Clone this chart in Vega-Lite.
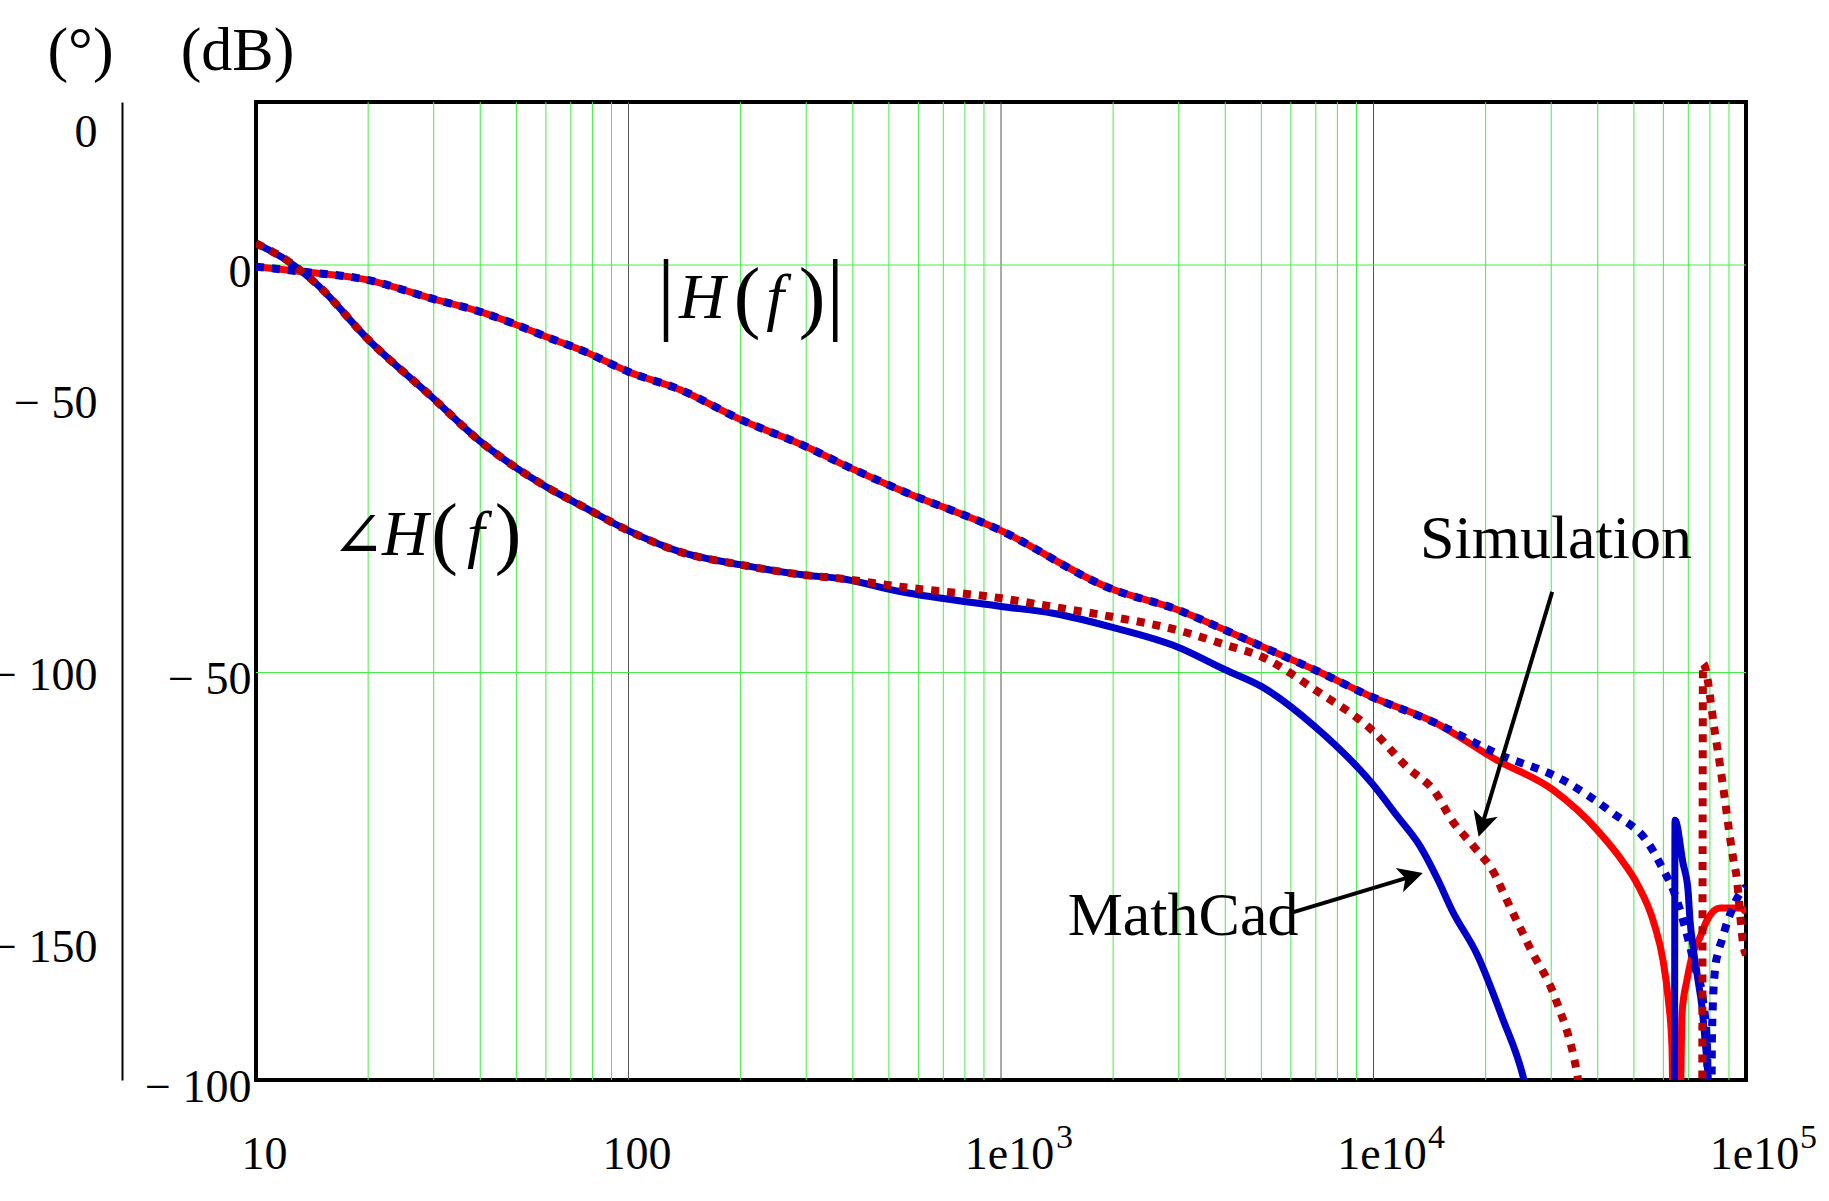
{
  "$schema": "https://vega.github.io/schema/vega-lite/v6.json",
  "width": 1490,
  "height": 978,
  "autosize": {"type": "none"},
  "padding": {"left": 256, "top": 102, "right": 83, "bottom": 121},
  "background": "white",
  "config": {
    "view": {"stroke": "black", "strokeWidth": 4},
    "font": "Liberation Serif",
    "axis": {"labelFont": "Liberation Serif", "titleFont": "Liberation Serif", "labelColor": "black", "titleColor": "black", "titleFontWeight": "normal"}
  },
  "datasets": {
    "minorGrid": [
      {"f": 20}, {"f": 30}, {"f": 40}, {"f": 50}, {"f": 60}, {"f": 70}, {"f": 80}, {"f": 90},
      {"f": 200}, {"f": 300}, {"f": 400}, {"f": 500}, {"f": 600}, {"f": 700}, {"f": 800}, {"f": 900},
      {"f": 2000}, {"f": 3000}, {"f": 4000}, {"f": 5000}, {"f": 6000}, {"f": 7000}, {"f": 8000}, {"f": 9000},
      {"f": 20000}, {"f": 30000}, {"f": 40000}, {"f": 50000}, {"f": 60000}, {"f": 70000}, {"f": 80000}, {"f": 90000}
    ],
    "decadeGrid": [{"f": 100}, {"f": 1000}, {"f": 10000}],
    "hGrid": [{"db": 0}, {"db": -50}],
    "mag": [
      {"s": "MathCad", "f": 10, "db": -0.2}, {"s": "MathCad", "f": 13.22, "db": -0.8}, {"s": "MathCad", "f": 19.77, "db": -1.8},
      {"s": "MathCad", "f": 29.56, "db": -4.1}, {"s": "MathCad", "f": 39.73, "db": -5.7}, {"s": "MathCad", "f": 49.15, "db": -7.2},
      {"s": "MathCad", "f": 60.12, "db": -8.8}, {"s": "MathCad", "f": 76.13, "db": -10.6}, {"s": "MathCad", "f": 99.94, "db": -13.1},
      {"s": "MathCad", "f": 137.6, "db": -15.3}, {"s": "MathCad", "f": 200.9, "db": -19.0}, {"s": "MathCad", "f": 300.3, "db": -22.3},
      {"s": "MathCad", "f": 369.8, "db": -24.3}, {"s": "MathCad", "f": 535.6, "db": -27.6}, {"s": "MathCad", "f": 990.8, "db": -32.5},
      {"s": "MathCad", "f": 1968, "db": -39.7}, {"s": "MathCad", "f": 2978, "db": -42.3}, {"s": "MathCad", "f": 4000, "db": -44.8},
      {"s": "MathCad", "f": 5012, "db": -46.8}, {"s": "MathCad", "f": 6973, "db": -49.7}, {"s": "MathCad", "f": 9901, "db": -53.0},
      {"s": "MathCad", "f": 14700, "db": -56.2}, {"s": "MathCad", "f": 21330, "db": -60.7}, {"s": "MathCad", "f": 30330, "db": -64.4},
      {"s": "MathCad", "f": 39810, "db": -69.3}, {"s": "MathCad", "f": 47030, "db": -73.4}, {"s": "MathCad", "f": 50970, "db": -75.9},
      {"s": "MathCad", "f": 56630, "db": -80.8}, {"s": "MathCad", "f": 59870, "db": -85.3}, {"s": "MathCad", "f": 61750, "db": -89.8},
      {"s": "MathCad", "f": 63290, "db": -96.0}, {"s": "MathCad", "f": 64080, "db": -115}, {"s": "MathCad", "f": 66100, "db": -115},
      {"s": "MathCad", "f": 67330, "db": -91.8}, {"s": "MathCad", "f": 69440, "db": -87.7}, {"s": "MathCad", "f": 72070, "db": -84.4},
      {"s": "MathCad", "f": 75240, "db": -82.5}, {"s": "MathCad", "f": 78570, "db": -80.4}, {"s": "MathCad", "f": 85140, "db": -78.9},
      {"s": "MathCad", "f": 96360, "db": -78.9}, {"s": "MathCad", "f": 100000, "db": -79.4},
      {"s": "Simulation", "f": 10, "db": -0.2}, {"s": "Simulation", "f": 13.22, "db": -0.8}, {"s": "Simulation", "f": 19.77, "db": -1.8},
      {"s": "Simulation", "f": 29.56, "db": -4.1}, {"s": "Simulation", "f": 39.73, "db": -5.7}, {"s": "Simulation", "f": 49.15, "db": -7.2},
      {"s": "Simulation", "f": 60.12, "db": -8.8}, {"s": "Simulation", "f": 76.13, "db": -10.6}, {"s": "Simulation", "f": 99.94, "db": -13.1},
      {"s": "Simulation", "f": 137.6, "db": -15.3}, {"s": "Simulation", "f": 200.9, "db": -19.0}, {"s": "Simulation", "f": 300.3, "db": -22.3},
      {"s": "Simulation", "f": 369.8, "db": -24.3}, {"s": "Simulation", "f": 535.6, "db": -27.6}, {"s": "Simulation", "f": 990.8, "db": -32.5},
      {"s": "Simulation", "f": 1968, "db": -39.7}, {"s": "Simulation", "f": 2978, "db": -42.3}, {"s": "Simulation", "f": 4000, "db": -44.8},
      {"s": "Simulation", "f": 5012, "db": -46.8}, {"s": "Simulation", "f": 6973, "db": -49.7}, {"s": "Simulation", "f": 9901, "db": -53.0},
      {"s": "Simulation", "f": 14700, "db": -56.2}, {"s": "Simulation", "f": 21330, "db": -59.9}, {"s": "Simulation", "f": 32270, "db": -63.2},
      {"s": "Simulation", "f": 43690, "db": -67.2}, {"s": "Simulation", "f": 54570, "db": -70.9}, {"s": "Simulation", "f": 60620, "db": -74.6},
      {"s": "Simulation", "f": 63290, "db": -76.3}, {"s": "Simulation", "f": 67750, "db": -80.4}, {"s": "Simulation", "f": 72970, "db": -86.1},
      {"s": "Simulation", "f": 76650, "db": -90.2}, {"s": "Simulation", "f": 78570, "db": -96.0}, {"s": "Simulation", "f": 79550, "db": -112},
      {"s": "Simulation", "f": 80540, "db": -112}, {"s": "Simulation", "f": 81040, "db": -94.2}, {"s": "Simulation", "f": 82550, "db": -86.5},
      {"s": "Simulation", "f": 84100, "db": -84.4}, {"s": "Simulation", "f": 86200, "db": -82.8}, {"s": "Simulation", "f": 88910, "db": -80.7},
      {"s": "Simulation", "f": 91700, "db": -79.1}, {"s": "Simulation", "f": 95180, "db": -77.5}, {"s": "Simulation", "f": 100000, "db": -76.3}
    ],
    "phase": [
      {"s": "MathCad", "f": 10, "ph": -21.0}, {"s": "MathCad", "f": 12.32, "ph": -24.5}, {"s": "MathCad", "f": 14.54, "ph": -28.5},
      {"s": "MathCad", "f": 20.0, "ph": -38.7}, {"s": "MathCad", "f": 29.56, "ph": -49.2}, {"s": "MathCad", "f": 39.73, "ph": -57.3},
      {"s": "MathCad", "f": 49.15, "ph": -62.0}, {"s": "MathCad", "f": 60.12, "ph": -65.8}, {"s": "MathCad", "f": 76.13, "ph": -69.6},
      {"s": "MathCad", "f": 99.94, "ph": -73.9}, {"s": "MathCad", "f": 137.6, "ph": -77.8}, {"s": "MathCad", "f": 200.9, "ph": -80.2},
      {"s": "MathCad", "f": 300.3, "ph": -82.1}, {"s": "MathCad", "f": 369.8, "ph": -82.7}, {"s": "MathCad", "f": 535.6, "ph": -85.1},
      {"s": "MathCad", "f": 990.8, "ph": -87.8}, {"s": "MathCad", "f": 1379, "ph": -89.1}, {"s": "MathCad", "f": 1968, "ph": -91.6},
      {"s": "MathCad", "f": 2978, "ph": -95.3}, {"s": "MathCad", "f": 4000, "ph": -99.5}, {"s": "MathCad", "f": 5012, "ph": -102.6},
      {"s": "MathCad", "f": 6973, "ph": -110.0}, {"s": "MathCad", "f": 9901, "ph": -120.4}, {"s": "MathCad", "f": 11600, "ph": -126.5},
      {"s": "MathCad", "f": 13370, "ph": -132.1}, {"s": "MathCad", "f": 14900, "ph": -138.2}, {"s": "MathCad", "f": 16230, "ph": -143.7},
      {"s": "MathCad", "f": 19000, "ph": -152.0}, {"s": "MathCad", "f": 22130, "ph": -163.4}, {"s": "MathCad", "f": 25350, "ph": -175.0},
      {"s": "MathCad", "f": 28000, "ph": -190}, {"s": "MathCad", "f": 40560, "ph": -210}, {"s": "MathCad", "f": 64080, "ph": -240},
      {"s": "MathCad", "f": 64480, "ph": -127.2}, {"s": "MathCad", "f": 67750, "ph": -135.1}, {"s": "MathCad", "f": 69870, "ph": -140.0},
      {"s": "MathCad", "f": 70740, "ph": -145.6}, {"s": "MathCad", "f": 72070, "ph": -150.5}, {"s": "MathCad", "f": 74320, "ph": -156.6},
      {"s": "MathCad", "f": 76180, "ph": -161.6}, {"s": "MathCad", "f": 77600, "ph": -167.6}, {"s": "MathCad", "f": 79050, "ph": -174.5},
      {"s": "MathCad", "f": 81040, "ph": -195},
      {"s": "Simulation", "f": 10, "ph": -21.0}, {"s": "Simulation", "f": 12.32, "ph": -24.5}, {"s": "Simulation", "f": 14.54, "ph": -28.5},
      {"s": "Simulation", "f": 20.0, "ph": -38.7}, {"s": "Simulation", "f": 29.56, "ph": -49.2}, {"s": "Simulation", "f": 39.73, "ph": -57.3},
      {"s": "Simulation", "f": 49.15, "ph": -62.0}, {"s": "Simulation", "f": 60.12, "ph": -65.8}, {"s": "Simulation", "f": 76.13, "ph": -69.6},
      {"s": "Simulation", "f": 99.94, "ph": -73.9}, {"s": "Simulation", "f": 137.6, "ph": -77.8}, {"s": "Simulation", "f": 200.9, "ph": -80.2},
      {"s": "Simulation", "f": 300.3, "ph": -82.1}, {"s": "Simulation", "f": 369.8, "ph": -82.7}, {"s": "Simulation", "f": 535.6, "ph": -84.2},
      {"s": "Simulation", "f": 990.8, "ph": -86.3}, {"s": "Simulation", "f": 1379, "ph": -87.9}, {"s": "Simulation", "f": 1968, "ph": -89.7},
      {"s": "Simulation", "f": 2978, "ph": -92.2}, {"s": "Simulation", "f": 4000, "ph": -94.9}, {"s": "Simulation", "f": 5012, "ph": -97.1},
      {"s": "Simulation", "f": 6973, "ph": -103.2}, {"s": "Simulation", "f": 9901, "ph": -110.6}, {"s": "Simulation", "f": 12300, "ph": -117.4},
      {"s": "Simulation", "f": 14700, "ph": -122.2}, {"s": "Simulation", "f": 16230, "ph": -127.2}, {"s": "Simulation", "f": 18620, "ph": -132.1},
      {"s": "Simulation", "f": 21330, "ph": -137.6}, {"s": "Simulation", "f": 22130, "ph": -140.0}, {"s": "Simulation", "f": 26310, "ph": -150.7},
      {"s": "Simulation", "f": 30900, "ph": -160.3}, {"s": "Simulation", "f": 35180, "ph": -173.7}, {"s": "Simulation", "f": 38130, "ph": -190},
      {"s": "Simulation", "f": 76180, "ph": -200}, {"s": "Simulation", "f": 76650, "ph": -98.3}, {"s": "Simulation", "f": 82550, "ph": -111.1},
      {"s": "Simulation", "f": 87820, "ph": -123.5}, {"s": "Simulation", "f": 89470, "ph": -127.7}, {"s": "Simulation", "f": 92270, "ph": -134.0},
      {"s": "Simulation", "f": 94590, "ph": -138.2}, {"s": "Simulation", "f": 96360, "ph": -144.3}, {"s": "Simulation", "f": 98170, "ph": -149.8},
      {"s": "Simulation", "f": 100000, "ph": -152.0}
    ],
    "bars": [
      {"f": 126.1, "db": -7.1, "t": "|"}, {"f": 358.9, "db": -7.1, "t": "|"}
    ],
    "parens": [
      {"f": 208.0, "db": -7.1, "t": "("}, {"f": 310.9, "db": -7.1, "t": ")"},
      {"f": 32.07, "db": -36.1, "t": "("}, {"f": 47.48, "db": -36.1, "t": ")"}
    ],
    "italics": [
      {"f": 157.5, "db": -6.5, "t": "H"}, {"f": 247.4, "db": -6.5, "t": "f"},
      {"f": 25.12, "db": -35.6, "t": "H"}, {"f": 38.96, "db": -35.6, "t": "f"}
    ],
    "angleSign": [{"f": 18.79, "db": -35.8, "t": "∠"}],
    "labels": [
      {"f": 30900, "db": -35.95, "t": "Simulation"},
      {"f": 3081, "db": -82.2, "t": "MathCad"}
    ],
    "superscripts": [
      {"f": 1405, "db": -108.3, "t": "3"},
      {"f": 14008, "db": -108.3, "t": "4"},
      {"f": 139640, "db": -108.3, "t": "5"}
    ],
    "arrows": [
      {"name": "Simulation", "f": 30176, "db": -40.1, "f2": 19634, "db2": -68.5},
      {"name": "MathCad", "f": 6005, "db": -79.5, "f2": 12485, "db2": -75.1}
    ]
  },
  "layer": [
    {
      "layer": [
        {
          "data": {"name": "minorGrid"},
          "mark": {"type": "rule", "color": "#44ee44", "strokeWidth": 1},
          "encoding": {
            "x": {"field": "f", "type": "quantitative", "scale": {"type": "log", "domain": [10, 100000], "nice": false},
              "axis": {"values": [10, 100, 1000, 10000, 100000], "labelExpr": "datum.value == 10 ? '10' : datum.value == 100 ? '100' : '1e10'", "domain": false, "ticks": false, "tickSize": 0, "grid": false, "labelFontSize": 46, "labelPadding": 88, "labelBaseline": "alphabetic", "labelOffset": 8, "labelFlush": false, "labelOverlap": false, "labelBound": false, "title": null}}
          }
        },
        {
          "data": {"name": "decadeGrid"},
          "mark": {"type": "rule", "color": "#555555", "strokeWidth": 1},
          "encoding": {
            "x": {"field": "f", "type": "quantitative", "scale": {"type": "log", "domain": [10, 100000], "nice": false},
              "axis": {"values": [10, 100, 1000, 10000, 100000], "labelExpr": "datum.value == 10 ? '10' : datum.value == 100 ? '100' : '1e10'", "domain": false, "ticks": false, "tickSize": 0, "grid": false, "labelFontSize": 46, "labelPadding": 88, "labelBaseline": "alphabetic", "labelOffset": 8, "labelFlush": false, "labelOverlap": false, "labelBound": false, "title": null}}
          }
        },
        {
          "data": {"name": "hGrid"},
          "mark": {"type": "rule", "color": "#44ee44", "strokeWidth": 1},
          "encoding": {
            "y": {"field": "db", "type": "quantitative", "scale": {"domain": [-100, 20], "nice": false, "zero": false},
              "axis": {"values": [-100, -50, 0], "labelExpr": "datum.value < 0 ? '− ' + format(-datum.value, 'd') : '0'", "domain": false, "ticks": false, "tickSize": 0, "grid": false, "labelFontSize": 46, "labelPadding": 5, "labelOffset": 7, "labelFlush": false, "labelOverlap": false, "labelBound": false, "title": "(dB)", "titleAngle": 0, "titleFontSize": 62, "titleAlign": "center", "titleBaseline": "alphabetic", "titleX": -19, "titleY": -33}}
          }
        },
        {
          "data": {"name": "mag"},
          "transform": [{"filter": "datum.s === 'MathCad'"}],
          "mark": {"type": "line", "color": "#ff0000", "strokeWidth": 7, "interpolate": "monotone", "clip": true},
          "encoding": {
            "x": {"field": "f", "type": "quantitative", "scale": {"type": "log", "domain": [10, 100000], "nice": false},
              "axis": {"values": [10, 100, 1000, 10000, 100000], "labelExpr": "datum.value == 10 ? '10' : datum.value == 100 ? '100' : '1e10'", "domain": false, "ticks": false, "tickSize": 0, "grid": false, "labelFontSize": 46, "labelPadding": 88, "labelBaseline": "alphabetic", "labelOffset": 8, "labelFlush": false, "labelOverlap": false, "labelBound": false, "title": null}},
            "y": {"field": "db", "type": "quantitative", "scale": {"domain": [-100, 20], "nice": false, "zero": false},
              "axis": {"values": [-100, -50, 0], "labelExpr": "datum.value < 0 ? '− ' + format(-datum.value, 'd') : '0'", "domain": false, "ticks": false, "tickSize": 0, "grid": false, "labelFontSize": 46, "labelPadding": 5, "labelOffset": 7, "labelFlush": false, "labelOverlap": false, "labelBound": false, "title": "(dB)", "titleAngle": 0, "titleFontSize": 62, "titleAlign": "center", "titleBaseline": "alphabetic", "titleX": -19, "titleY": -33}}
          }
        },
        {
          "data": {"name": "mag"},
          "transform": [{"filter": "datum.s === 'Simulation'"}],
          "mark": {"type": "line", "color": "#0000c8", "strokeWidth": 8, "strokeDash": [8, 8], "strokeCap": "butt", "interpolate": "monotone", "clip": true},
          "encoding": {
            "x": {"field": "f", "type": "quantitative", "scale": {"type": "log", "domain": [10, 100000], "nice": false},
              "axis": {"values": [10, 100, 1000, 10000, 100000], "labelExpr": "datum.value == 10 ? '10' : datum.value == 100 ? '100' : '1e10'", "domain": false, "ticks": false, "tickSize": 0, "grid": false, "labelFontSize": 46, "labelPadding": 88, "labelBaseline": "alphabetic", "labelOffset": 8, "labelFlush": false, "labelOverlap": false, "labelBound": false, "title": null}},
            "y": {"field": "db", "type": "quantitative", "scale": {"domain": [-100, 20], "nice": false, "zero": false},
              "axis": {"values": [-100, -50, 0], "labelExpr": "datum.value < 0 ? '− ' + format(-datum.value, 'd') : '0'", "domain": false, "ticks": false, "tickSize": 0, "grid": false, "labelFontSize": 46, "labelPadding": 5, "labelOffset": 7, "labelFlush": false, "labelOverlap": false, "labelBound": false, "title": "(dB)", "titleAngle": 0, "titleFontSize": 62, "titleAlign": "center", "titleBaseline": "alphabetic", "titleX": -19, "titleY": -33}}
          }
        },
        {
          "data": {"name": "bars"},
          "mark": {"type": "text", "font": "Liberation Serif", "fontSize": 90, "align": "center", "baseline": "alphabetic", "color": "black"},
          "encoding": {
            "x": {"field": "f", "type": "quantitative", "scale": {"type": "log", "domain": [10, 100000], "nice": false},
              "axis": {"values": [10, 100, 1000, 10000, 100000], "labelExpr": "datum.value == 10 ? '10' : datum.value == 100 ? '100' : '1e10'", "domain": false, "ticks": false, "tickSize": 0, "grid": false, "labelFontSize": 46, "labelPadding": 88, "labelBaseline": "alphabetic", "labelOffset": 8, "labelFlush": false, "labelOverlap": false, "labelBound": false, "title": null}},
            "y": {"field": "db", "type": "quantitative", "scale": {"domain": [-100, 20], "nice": false, "zero": false},
              "axis": {"values": [-100, -50, 0], "labelExpr": "datum.value < 0 ? '− ' + format(-datum.value, 'd') : '0'", "domain": false, "ticks": false, "tickSize": 0, "grid": false, "labelFontSize": 46, "labelPadding": 5, "labelOffset": 7, "labelFlush": false, "labelOverlap": false, "labelBound": false, "title": "(dB)", "titleAngle": 0, "titleFontSize": 62, "titleAlign": "center", "titleBaseline": "alphabetic", "titleX": -19, "titleY": -33}},
            "text": {"field": "t"}
          }
        },
        {
          "data": {"name": "parens"},
          "mark": {"type": "text", "font": "Liberation Serif", "fontSize": 80, "align": "center", "baseline": "alphabetic", "color": "black"},
          "encoding": {
            "x": {"field": "f", "type": "quantitative", "scale": {"type": "log", "domain": [10, 100000], "nice": false},
              "axis": {"values": [10, 100, 1000, 10000, 100000], "labelExpr": "datum.value == 10 ? '10' : datum.value == 100 ? '100' : '1e10'", "domain": false, "ticks": false, "tickSize": 0, "grid": false, "labelFontSize": 46, "labelPadding": 88, "labelBaseline": "alphabetic", "labelOffset": 8, "labelFlush": false, "labelOverlap": false, "labelBound": false, "title": null}},
            "y": {"field": "db", "type": "quantitative", "scale": {"domain": [-100, 20], "nice": false, "zero": false},
              "axis": {"values": [-100, -50, 0], "labelExpr": "datum.value < 0 ? '− ' + format(-datum.value, 'd') : '0'", "domain": false, "ticks": false, "tickSize": 0, "grid": false, "labelFontSize": 46, "labelPadding": 5, "labelOffset": 7, "labelFlush": false, "labelOverlap": false, "labelBound": false, "title": "(dB)", "titleAngle": 0, "titleFontSize": 62, "titleAlign": "center", "titleBaseline": "alphabetic", "titleX": -19, "titleY": -33}},
            "text": {"field": "t"}
          }
        },
        {
          "data": {"name": "italics"},
          "mark": {"type": "text", "font": "Liberation Serif", "fontStyle": "italic", "fontSize": 64, "align": "center", "baseline": "alphabetic", "color": "black"},
          "encoding": {
            "x": {"field": "f", "type": "quantitative", "scale": {"type": "log", "domain": [10, 100000], "nice": false},
              "axis": {"values": [10, 100, 1000, 10000, 100000], "labelExpr": "datum.value == 10 ? '10' : datum.value == 100 ? '100' : '1e10'", "domain": false, "ticks": false, "tickSize": 0, "grid": false, "labelFontSize": 46, "labelPadding": 88, "labelBaseline": "alphabetic", "labelOffset": 8, "labelFlush": false, "labelOverlap": false, "labelBound": false, "title": null}},
            "y": {"field": "db", "type": "quantitative", "scale": {"domain": [-100, 20], "nice": false, "zero": false},
              "axis": {"values": [-100, -50, 0], "labelExpr": "datum.value < 0 ? '− ' + format(-datum.value, 'd') : '0'", "domain": false, "ticks": false, "tickSize": 0, "grid": false, "labelFontSize": 46, "labelPadding": 5, "labelOffset": 7, "labelFlush": false, "labelOverlap": false, "labelBound": false, "title": "(dB)", "titleAngle": 0, "titleFontSize": 62, "titleAlign": "center", "titleBaseline": "alphabetic", "titleX": -19, "titleY": -33}},
            "text": {"field": "t"}
          }
        },
        {
          "data": {"name": "angleSign"},
          "mark": {"type": "text", "font": "DejaVu Serif", "fontSize": 64, "align": "center", "baseline": "alphabetic", "color": "black"},
          "encoding": {
            "x": {"field": "f", "type": "quantitative", "scale": {"type": "log", "domain": [10, 100000], "nice": false},
              "axis": {"values": [10, 100, 1000, 10000, 100000], "labelExpr": "datum.value == 10 ? '10' : datum.value == 100 ? '100' : '1e10'", "domain": false, "ticks": false, "tickSize": 0, "grid": false, "labelFontSize": 46, "labelPadding": 88, "labelBaseline": "alphabetic", "labelOffset": 8, "labelFlush": false, "labelOverlap": false, "labelBound": false, "title": null}},
            "y": {"field": "db", "type": "quantitative", "scale": {"domain": [-100, 20], "nice": false, "zero": false},
              "axis": {"values": [-100, -50, 0], "labelExpr": "datum.value < 0 ? '− ' + format(-datum.value, 'd') : '0'", "domain": false, "ticks": false, "tickSize": 0, "grid": false, "labelFontSize": 46, "labelPadding": 5, "labelOffset": 7, "labelFlush": false, "labelOverlap": false, "labelBound": false, "title": "(dB)", "titleAngle": 0, "titleFontSize": 62, "titleAlign": "center", "titleBaseline": "alphabetic", "titleX": -19, "titleY": -33}},
            "text": {"field": "t"}
          }
        },
        {
          "data": {"name": "labels"},
          "mark": {"type": "text", "font": "Liberation Serif", "fontSize": 62, "align": "center", "baseline": "alphabetic", "color": "black"},
          "encoding": {
            "x": {"field": "f", "type": "quantitative", "scale": {"type": "log", "domain": [10, 100000], "nice": false},
              "axis": {"values": [10, 100, 1000, 10000, 100000], "labelExpr": "datum.value == 10 ? '10' : datum.value == 100 ? '100' : '1e10'", "domain": false, "ticks": false, "tickSize": 0, "grid": false, "labelFontSize": 46, "labelPadding": 88, "labelBaseline": "alphabetic", "labelOffset": 8, "labelFlush": false, "labelOverlap": false, "labelBound": false, "title": null}},
            "y": {"field": "db", "type": "quantitative", "scale": {"domain": [-100, 20], "nice": false, "zero": false},
              "axis": {"values": [-100, -50, 0], "labelExpr": "datum.value < 0 ? '− ' + format(-datum.value, 'd') : '0'", "domain": false, "ticks": false, "tickSize": 0, "grid": false, "labelFontSize": 46, "labelPadding": 5, "labelOffset": 7, "labelFlush": false, "labelOverlap": false, "labelBound": false, "title": "(dB)", "titleAngle": 0, "titleFontSize": 62, "titleAlign": "center", "titleBaseline": "alphabetic", "titleX": -19, "titleY": -33}},
            "text": {"field": "t"}
          }
        },
        {
          "data": {"name": "superscripts"},
          "mark": {"type": "text", "font": "Liberation Serif", "fontSize": 34, "align": "left", "baseline": "alphabetic", "color": "black"},
          "encoding": {
            "x": {"field": "f", "type": "quantitative", "scale": {"type": "log", "domain": [10, 100000], "nice": false},
              "axis": {"values": [10, 100, 1000, 10000, 100000], "labelExpr": "datum.value == 10 ? '10' : datum.value == 100 ? '100' : '1e10'", "domain": false, "ticks": false, "tickSize": 0, "grid": false, "labelFontSize": 46, "labelPadding": 88, "labelBaseline": "alphabetic", "labelOffset": 8, "labelFlush": false, "labelOverlap": false, "labelBound": false, "title": null}},
            "y": {"field": "db", "type": "quantitative", "scale": {"domain": [-100, 20], "nice": false, "zero": false},
              "axis": {"values": [-100, -50, 0], "labelExpr": "datum.value < 0 ? '− ' + format(-datum.value, 'd') : '0'", "domain": false, "ticks": false, "tickSize": 0, "grid": false, "labelFontSize": 46, "labelPadding": 5, "labelOffset": 7, "labelFlush": false, "labelOverlap": false, "labelBound": false, "title": "(dB)", "titleAngle": 0, "titleFontSize": 62, "titleAlign": "center", "titleBaseline": "alphabetic", "titleX": -19, "titleY": -33}},
            "text": {"field": "t"}
          }
        },
        {
          "data": {"name": "arrows"},
          "mark": {"type": "rule", "color": "black", "strokeWidth": 4},
          "encoding": {
            "x": {"field": "f", "type": "quantitative", "scale": {"type": "log", "domain": [10, 100000], "nice": false},
              "axis": {"values": [10, 100, 1000, 10000, 100000], "labelExpr": "datum.value == 10 ? '10' : datum.value == 100 ? '100' : '1e10'", "domain": false, "ticks": false, "tickSize": 0, "grid": false, "labelFontSize": 46, "labelPadding": 88, "labelBaseline": "alphabetic", "labelOffset": 8, "labelFlush": false, "labelOverlap": false, "labelBound": false, "title": null}},
            "y": {"field": "db", "type": "quantitative", "scale": {"domain": [-100, 20], "nice": false, "zero": false},
              "axis": {"values": [-100, -50, 0], "labelExpr": "datum.value < 0 ? '− ' + format(-datum.value, 'd') : '0'", "domain": false, "ticks": false, "tickSize": 0, "grid": false, "labelFontSize": 46, "labelPadding": 5, "labelOffset": 7, "labelFlush": false, "labelOverlap": false, "labelBound": false, "title": "(dB)", "titleAngle": 0, "titleFontSize": 62, "titleAlign": "center", "titleBaseline": "alphabetic", "titleX": -19, "titleY": -33}},
            "x2": {"field": "f2"},
            "y2": {"field": "db2"}
          }
        },
        {
          "data": {"name": "arrows"},
          "transform": [{"filter": "datum.name === 'Simulation'"}],
          "mark": {"type": "point", "shape": "M0,-1L0.9,0.75L0,0.3L-0.9,0.75Z", "filled": true, "color": "black", "opacity": 1, "size": 784, "angle": 196.7},
          "encoding": {
            "x": {"field": "f2", "type": "quantitative", "scale": {"type": "log", "domain": [10, 100000], "nice": false},
              "axis": {"values": [10, 100, 1000, 10000, 100000], "labelExpr": "datum.value == 10 ? '10' : datum.value == 100 ? '100' : '1e10'", "domain": false, "ticks": false, "tickSize": 0, "grid": false, "labelFontSize": 46, "labelPadding": 88, "labelBaseline": "alphabetic", "labelOffset": 8, "labelFlush": false, "labelOverlap": false, "labelBound": false, "title": null}},
            "y": {"field": "db2", "type": "quantitative", "scale": {"domain": [-100, 20], "nice": false, "zero": false},
              "axis": {"values": [-100, -50, 0], "labelExpr": "datum.value < 0 ? '− ' + format(-datum.value, 'd') : '0'", "domain": false, "ticks": false, "tickSize": 0, "grid": false, "labelFontSize": 46, "labelPadding": 5, "labelOffset": 7, "labelFlush": false, "labelOverlap": false, "labelBound": false, "title": "(dB)", "titleAngle": 0, "titleFontSize": 62, "titleAlign": "center", "titleBaseline": "alphabetic", "titleX": -19, "titleY": -33}}
          }
        },
        {
          "data": {"name": "arrows"},
          "transform": [{"filter": "datum.name === 'MathCad'"}],
          "mark": {"type": "point", "shape": "M0,-1L0.9,0.75L0,0.3L-0.9,0.75Z", "filled": true, "color": "black", "opacity": 1, "size": 784, "angle": 73.2},
          "encoding": {
            "x": {"field": "f2", "type": "quantitative", "scale": {"type": "log", "domain": [10, 100000], "nice": false},
              "axis": {"values": [10, 100, 1000, 10000, 100000], "labelExpr": "datum.value == 10 ? '10' : datum.value == 100 ? '100' : '1e10'", "domain": false, "ticks": false, "tickSize": 0, "grid": false, "labelFontSize": 46, "labelPadding": 88, "labelBaseline": "alphabetic", "labelOffset": 8, "labelFlush": false, "labelOverlap": false, "labelBound": false, "title": null}},
            "y": {"field": "db2", "type": "quantitative", "scale": {"domain": [-100, 20], "nice": false, "zero": false},
              "axis": {"values": [-100, -50, 0], "labelExpr": "datum.value < 0 ? '− ' + format(-datum.value, 'd') : '0'", "domain": false, "ticks": false, "tickSize": 0, "grid": false, "labelFontSize": 46, "labelPadding": 5, "labelOffset": 7, "labelFlush": false, "labelOverlap": false, "labelBound": false, "title": "(dB)", "titleAngle": 0, "titleFontSize": 62, "titleAlign": "center", "titleBaseline": "alphabetic", "titleX": -19, "titleY": -33}}
          }
        }
      ]
    },
    {
      "layer": [
        {
          "data": {"name": "phase"},
          "transform": [{"filter": "datum.s === 'MathCad'"}],
          "mark": {"type": "line", "color": "#0000c8", "strokeWidth": 7, "interpolate": "monotone", "clip": true},
          "encoding": {
            "x": {"field": "f", "type": "quantitative", "scale": {"type": "log", "domain": [10, 100000], "nice": false},
              "axis": {"values": [10, 100, 1000, 10000, 100000], "labelExpr": "datum.value == 10 ? '10' : datum.value == 100 ? '100' : '1e10'", "domain": false, "ticks": false, "tickSize": 0, "grid": false, "labelFontSize": 46, "labelPadding": 88, "labelBaseline": "alphabetic", "labelOffset": 8, "labelFlush": false, "labelOverlap": false, "labelBound": false, "title": null}},
            "y": {"field": "ph", "type": "quantitative", "scale": {"domain": [-175, 5], "nice": false, "zero": false},
              "axis": {"orient": "left", "offset": 134, "values": [-150, -100, -50, 0], "labelExpr": "datum.value < 0 ? '− ' + format(-datum.value, 'd') : '0'", "domain": true, "domainColor": "black", "domainWidth": 2, "ticks": false, "tickSize": 0, "grid": false, "labelFontSize": 46, "labelPadding": 25, "labelOffset": 3, "labelFlush": false, "labelOverlap": false, "labelBound": false, "title": "(°)", "titleAngle": 0, "titleFontSize": 62, "titleAlign": "center", "titleBaseline": "alphabetic", "titleX": -42, "titleY": -33}}
          }
        },
        {
          "data": {"name": "phase"},
          "transform": [{"filter": "datum.s === 'Simulation'"}],
          "mark": {"type": "line", "color": "#ba0000", "strokeWidth": 8, "strokeDash": [8, 8], "strokeCap": "butt", "interpolate": "monotone", "clip": true},
          "encoding": {
            "x": {"field": "f", "type": "quantitative", "scale": {"type": "log", "domain": [10, 100000], "nice": false},
              "axis": {"values": [10, 100, 1000, 10000, 100000], "labelExpr": "datum.value == 10 ? '10' : datum.value == 100 ? '100' : '1e10'", "domain": false, "ticks": false, "tickSize": 0, "grid": false, "labelFontSize": 46, "labelPadding": 88, "labelBaseline": "alphabetic", "labelOffset": 8, "labelFlush": false, "labelOverlap": false, "labelBound": false, "title": null}},
            "y": {"field": "ph", "type": "quantitative", "scale": {"domain": [-175, 5], "nice": false, "zero": false},
              "axis": {"orient": "left", "offset": 134, "values": [-150, -100, -50, 0], "labelExpr": "datum.value < 0 ? '− ' + format(-datum.value, 'd') : '0'", "domain": true, "domainColor": "black", "domainWidth": 2, "ticks": false, "tickSize": 0, "grid": false, "labelFontSize": 46, "labelPadding": 25, "labelOffset": 3, "labelFlush": false, "labelOverlap": false, "labelBound": false, "title": "(°)", "titleAngle": 0, "titleFontSize": 62, "titleAlign": "center", "titleBaseline": "alphabetic", "titleX": -42, "titleY": -33}}
          }
        }
      ]
    }
  ],
  "resolve": {"scale": {"y": "independent"}}
}
